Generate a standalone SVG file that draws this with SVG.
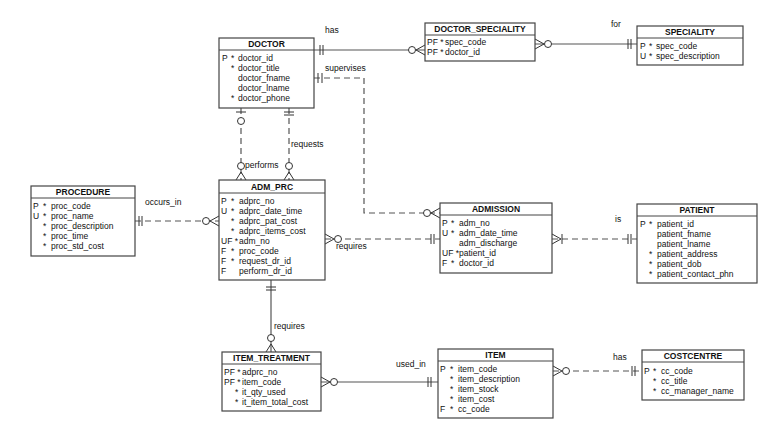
<svg xmlns="http://www.w3.org/2000/svg" width="773" height="440" viewBox="0 0 773 440">
<style>
text{font-family:"Liberation Sans",Arial,sans-serif;font-size:8.5px;fill:#111}
.h{font-weight:bold;text-anchor:middle}
.box{fill:#fff;stroke:#444;stroke-width:1.2}
.sep{stroke:#444;stroke-width:1}
.s{stroke:#555;stroke-width:1.2;fill:none}
.d{stroke:#555;stroke-width:1.2;fill:none;stroke-dasharray:6 4}
.m{stroke:#333;stroke-width:1;fill:#fff}
.lbl{font-size:8.5px}
</style>
<rect width="773" height="440" fill="#fff"/>
<g id="connectors">
<!-- has -->
<path class="s" d="M314,50 H425"/><path class="m" d="M320,45V55M323,45V55"/><circle class="m" cx="412" cy="50" r="3.5"/><path class="m" d="M416,50L425,45M416,50L425,55" fill="none"/>
<text class="lbl" x="325" y="33">has</text>
<!-- for -->
<path class="s" d="M535,44 H637"/><path class="m" d="M544,44L535,39M544,44L535,49" fill="none"/><circle class="m" cx="548" cy="44" r="3.5"/><path class="m" d="M628,39V49M631,39V49"/>
<text class="lbl" x="611" y="27">for</text>
<!-- supervises -->
<path class="d" d="M314,78 H364 V213 H440"/><path class="m" d="M318,73V83M322,73V83"/><circle class="m" cx="427" cy="213" r="3.5"/><path class="m" d="M431,213L440,208M431,213L440,218" fill="none"/>
<text class="lbl" x="325" y="71">supervises</text>
<!-- performs -->
<path class="d" d="M241,108 V180"/><path class="m" d="M236,112H246"/><circle class="m" cx="241" cy="121" r="3.5"/><circle class="m" cx="241" cy="166" r="3.5"/><path class="m" d="M241,172L236,180M241,172L246,180" fill="none"/>
<text class="lbl" x="245" y="168">performs</text>
<!-- requests -->
<path class="d" d="M289,108 V180"/><path class="m" d="M284,112H294M284,115H294"/><circle class="m" cx="289" cy="166" r="3.5"/><path class="m" d="M289,172L284,180M289,172L294,180" fill="none"/>
<text class="lbl" x="291" y="147">requests</text>
<!-- occurs_in -->
<path class="d" d="M135,221 H219"/><path class="m" d="M139,216V226M142,216V226"/><circle class="m" cx="206" cy="221" r="3.5"/><path class="m" d="M210,221L219,216M210,221L219,226" fill="none"/>
<text class="lbl" x="145" y="205">occurs_in</text>
<!-- requires adm -->
<path class="d" d="M325,239 H440"/><path class="m" d="M334,239L325,234M334,239L325,244" fill="none"/><circle class="m" cx="338" cy="239" r="3.5"/><path class="m" d="M431,234V244M434,234V244"/>
<text class="lbl" x="336" y="249">requires</text>
<!-- is -->
<path class="d" d="M552,239 H637"/><path class="m" d="M561,239L552,234M561,239L552,244M562,234V244" fill="none"/><path class="m" d="M628,234V244M631,234V244"/>
<text class="lbl" x="615" y="222">is</text>
<!-- requires item_treatment -->
<path class="s" d="M271,280 V352"/><path class="m" d="M266,287H276M266,290H276"/><circle class="m" cx="271" cy="338" r="3.5"/><path class="m" d="M271,344L266,352M271,344L276,352" fill="none"/>
<text class="lbl" x="274" y="329">requires</text>
<!-- used_in -->
<path class="s" d="M321,382 H438"/><path class="m" d="M330,382L321,377M330,382L321,387" fill="none"/><circle class="m" cx="334" cy="382" r="3.5"/><path class="m" d="M428,377V387M431,377V387"/>
<text class="lbl" x="396" y="367">used_in</text>
<!-- has cc -->
<path class="d" d="M553,371 H642"/><path class="m" d="M562,371L553,366M562,371L553,376" fill="none"/><circle class="m" cx="566" cy="371" r="3.5"/><path class="m" d="M632,366V376M635,366V376"/>
<text class="lbl" x="613" y="360">has</text>
</g>
<g id="DOCTOR">
<rect class="box" x="219" y="38" width="95" height="70"/><line class="sep" x1="219" y1="50" x2="314" y2="50"/>
<text class="h" x="266.5" y="47">DOCTOR</text>
<text x="222" y="61">P</text><text x="231" y="61">*</text><text x="238" y="61">doctor_id</text>
<text x="231" y="71">*</text><text x="238" y="71">doctor_title</text>
<text x="238" y="81">doctor_fname</text>
<text x="238" y="91">doctor_lname</text>
<text x="231" y="101">*</text><text x="238" y="101">doctor_phone</text>
</g>
<g id="DOCTOR_SPECIALITY">
<rect class="box" x="425" y="23" width="110" height="38"/><line class="sep" x1="425" y1="35" x2="535" y2="35"/>
<text class="h" x="480" y="32">DOCTOR_SPECIALITY</text>
<text x="427" y="45">PF *</text><text x="445" y="45">spec_code</text>
<text x="427" y="55">PF *</text><text x="445" y="55">doctor_id</text>
</g>
<g id="SPECIALITY">
<rect class="box" x="637" y="26" width="106" height="39"/><line class="sep" x1="637" y1="38" x2="743" y2="38"/>
<text class="h" x="690" y="35">SPECIALITY</text>
<text x="640" y="49">P</text><text x="649" y="49">*</text><text x="656" y="49">spec_code</text>
<text x="640" y="59">U</text><text x="649" y="59">*</text><text x="656" y="59">spec_description</text>
</g>
<g id="PROCEDURE">
<rect class="box" x="31" y="186" width="104" height="70"/><line class="sep" x1="31" y1="198" x2="135" y2="198"/>
<text class="h" x="83" y="195">PROCEDURE</text>
<text x="33" y="209">P</text><text x="43" y="209">*</text><text x="51" y="209">proc_code</text>
<text x="33" y="219">U</text><text x="43" y="219">*</text><text x="51" y="219">proc_name</text>
<text x="43" y="229">*</text><text x="51" y="229">proc_description</text>
<text x="43" y="239">*</text><text x="51" y="239">proc_time</text>
<text x="43" y="249">*</text><text x="51" y="249">proc_std_cost</text>
</g>
<g id="ADM_PRC">
<rect class="box" x="219" y="180" width="106" height="100"/><line class="sep" x1="219" y1="193" x2="325" y2="193"/>
<text class="h" x="272" y="190">ADM_PRC</text>
<text x="221" y="204">P</text><text x="231" y="204">*</text><text x="239" y="204">adprc_no</text>
<text x="221" y="214">U</text><text x="231" y="214">*</text><text x="239" y="214">adprc_date_time</text>
<text x="231" y="224">*</text><text x="239" y="224">adprc_pat_cost</text>
<text x="231" y="234">*</text><text x="239" y="234">adprc_items_cost</text>
<text x="221" y="244">UF *</text><text x="239" y="244">adm_no</text>
<text x="221" y="254">F</text><text x="231" y="254">*</text><text x="239" y="254">proc_code</text>
<text x="221" y="264">F</text><text x="231" y="264">*</text><text x="239" y="264">request_dr_id</text>
<text x="221" y="274">F</text><text x="239" y="274">perform_dr_id</text>
</g>
<g id="ADMISSION">
<rect class="box" x="440" y="203" width="112" height="70"/><line class="sep" x1="440" y1="215" x2="552" y2="215"/>
<text class="h" x="496" y="212">ADMISSION</text>
<text x="442" y="226">P</text><text x="451" y="226">*</text><text x="459" y="226">adm_no</text>
<text x="442" y="236">U</text><text x="451" y="236">*</text><text x="459" y="236">adm_date_time</text>
<text x="459" y="246">adm_discharge</text>
<text x="442" y="256">UF *</text><text x="459" y="256">patient_id</text>
<text x="442" y="266">F</text><text x="451" y="266">*</text><text x="459" y="266">doctor_id</text>
</g>
<g id="PATIENT">
<rect class="box" x="637" y="204" width="120" height="79"/><line class="sep" x1="637" y1="216" x2="757" y2="216"/>
<text class="h" x="697" y="213">PATIENT</text>
<text x="640" y="227">P</text><text x="649" y="227">*</text><text x="657" y="227">patient_id</text>
<text x="657" y="237">patient_fname</text>
<text x="657" y="247">patient_lname</text>
<text x="649" y="257">*</text><text x="657" y="257">patient_address</text>
<text x="649" y="267">*</text><text x="657" y="267">patient_dob</text>
<text x="649" y="277">*</text><text x="657" y="277">patient_contact_phn</text>
</g>
<g id="ITEM_TREATMENT">
<rect class="box" x="222" y="352" width="99" height="59"/><line class="sep" x1="222" y1="364" x2="321" y2="364"/>
<text class="h" x="271.5" y="361">ITEM_TREATMENT</text>
<text x="224" y="375">PF *</text><text x="242" y="375">adprc_no</text>
<text x="224" y="385">PF *</text><text x="242" y="385">item_code</text>
<text x="235" y="395">*</text><text x="242" y="395">it_qty_used</text>
<text x="235" y="405">*</text><text x="242" y="405">it_item_total_cost</text>
</g>
<g id="ITEM">
<rect class="box" x="438" y="349" width="115" height="69"/><line class="sep" x1="438" y1="361" x2="553" y2="361"/>
<text class="h" x="495.5" y="358">ITEM</text>
<text x="440" y="372">P</text><text x="450" y="372">*</text><text x="458" y="372">item_code</text>
<text x="450" y="382">*</text><text x="458" y="382">item_description</text>
<text x="450" y="392">*</text><text x="458" y="392">item_stock</text>
<text x="450" y="402">*</text><text x="458" y="402">item_cost</text>
<text x="440" y="412">F</text><text x="450" y="412">*</text><text x="458" y="412">cc_code</text>
</g>
<g id="COSTCENTRE">
<rect class="box" x="642" y="350" width="102" height="50"/><line class="sep" x1="642" y1="362" x2="744" y2="362"/>
<text class="h" x="693" y="359">COSTCENTRE</text>
<text x="644" y="374">P</text><text x="653" y="374">*</text><text x="661" y="374">cc_code</text>
<text x="653" y="384">*</text><text x="661" y="384">cc_title</text>
<text x="653" y="394">*</text><text x="661" y="394">cc_manager_name</text>
</g>
</svg>
